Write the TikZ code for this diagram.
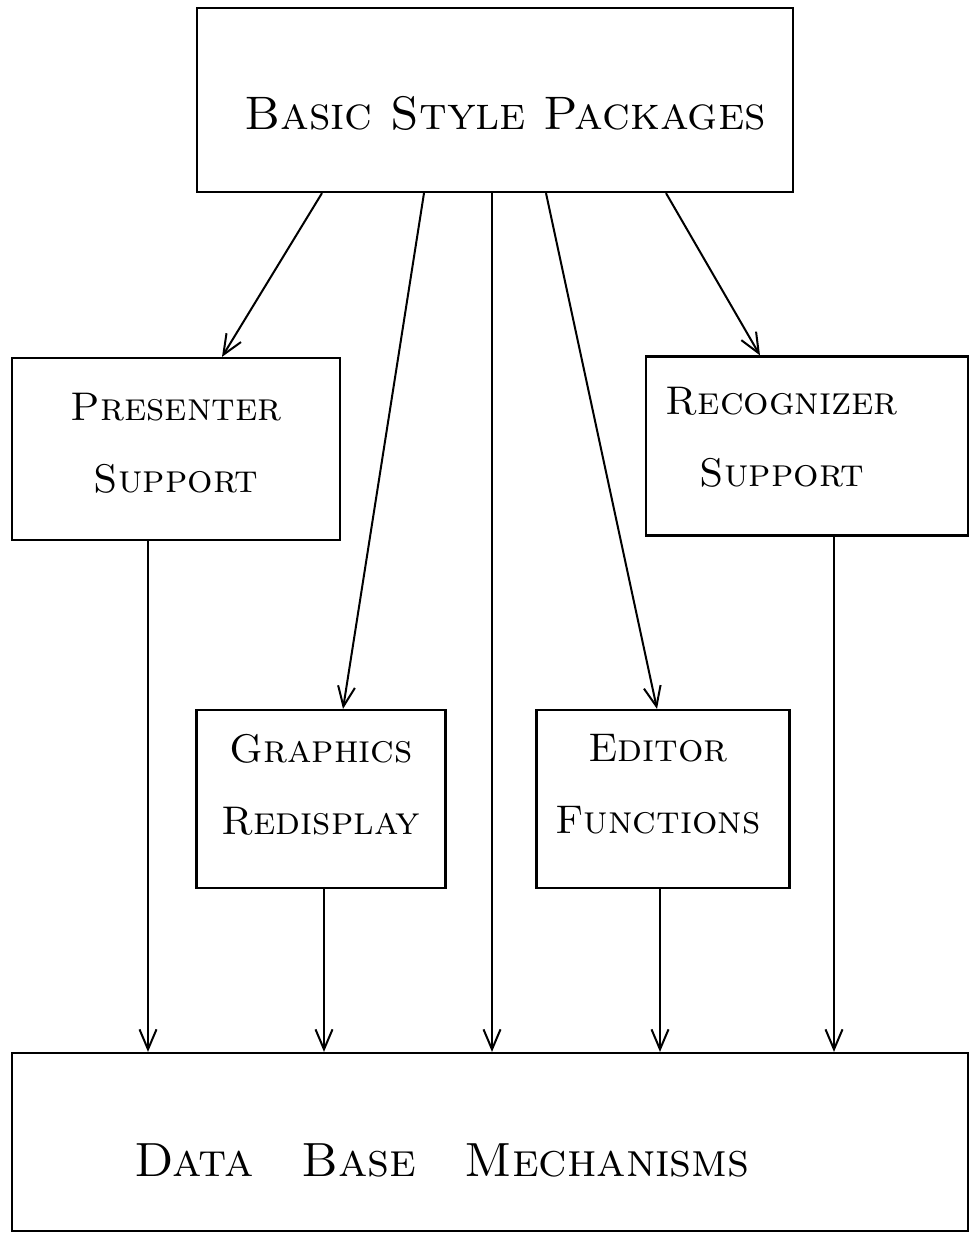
\documentclass[tikz,border=0pt]{standalone}
\usepackage{tikz}
\usetikzlibrary{arrows.meta, calc, positioning}

\begin{document}
\begin{tikzpicture}[x=1pt, y=-1pt]

% TikZ styles
\tikzset{
  box/.style={rectangle, draw=black, line width=2.2pt, inner sep=0pt},
  txt/.style={align=center, inner sep=0pt, font=\fontsize{40}{72}\selectfont\scshape},
  arrow/.style={-{Straight Barb[length=20pt, width=17pt, line width=2pt]}, line width=2pt}
};

\useasboundingbox (0,0) rectangle (970,1234);

% --- Kaesten ---
\node[box, minimum width=596pt, minimum height=184pt,
  label={[txt, font=\fontsize{47}{60}\selectfont\scshape, xshift=10pt, yshift=-13pt]center:Basic Style Packages}] (basic) at (495,100) {};
\node[box, minimum width=328pt, minimum height=182pt,
  label={[txt, yshift=6pt]center:Presenter\\Support}] (presenter) at (176,449) {};
\node[box, minimum width=322pt, minimum height=179pt,
  label={[txt, xshift=-25pt, yshift=9pt]center:Recognizer\\Support}] (recognizer) at (807,446) {};
\node[box, minimum width=249pt, minimum height=178pt,
  label={[txt, yshift=14pt]center:Graphics\\Redisplay}] (graphics) at (321,799) {};
\node[box, minimum width=253pt, minimum height=178pt,
  label={[txt, xshift=-5pt, yshift=15pt]center:Editor\\Functions}] (editor) at (663,799) {};
\node[box, minimum width=956pt, minimum height=178pt,
  label={[txt, font=\fontsize{48}{56}\selectfont\scshape, xshift=-48pt, yshift=-18pt]center:Data\quad Base\quad Mechanisms}] (database) at (490,1142) {};

% --- Pfeile oben ---
\draw[arrow] ([xshift=-173pt]basic.south) -- ([xshift=46pt]presenter.north);
\draw[arrow] ([xshift=-71pt]basic.south) -- ([xshift=22pt]graphics.north);
\draw[arrow] ([xshift=-3pt]basic.south) -- ([xshift=-3pt]basic.south |- database.north);
\draw[arrow] ([xshift=51pt]basic.south) -- ([xshift=-6pt]editor.north);
\draw[arrow] ([xshift=171pt]basic.south) -- ([xshift=-47pt]recognizer.north);

% --- Pfeile unten ---
\draw[arrow] ([xshift=-28pt]presenter.south) -- ([xshift=-28pt]presenter.south |- database.north);
\draw[arrow] ([xshift=3pt]graphics.south) -- ([xshift=3pt]graphics.south |- database.north);
\draw[arrow] ([xshift=-3pt]editor.south) -- ([xshift=-3pt]editor.south |- database.north);
\draw[arrow] ([xshift=27pt]recognizer.south) -- ([xshift=27pt]recognizer.south |- database.north);
\end{tikzpicture}
\end{document}
